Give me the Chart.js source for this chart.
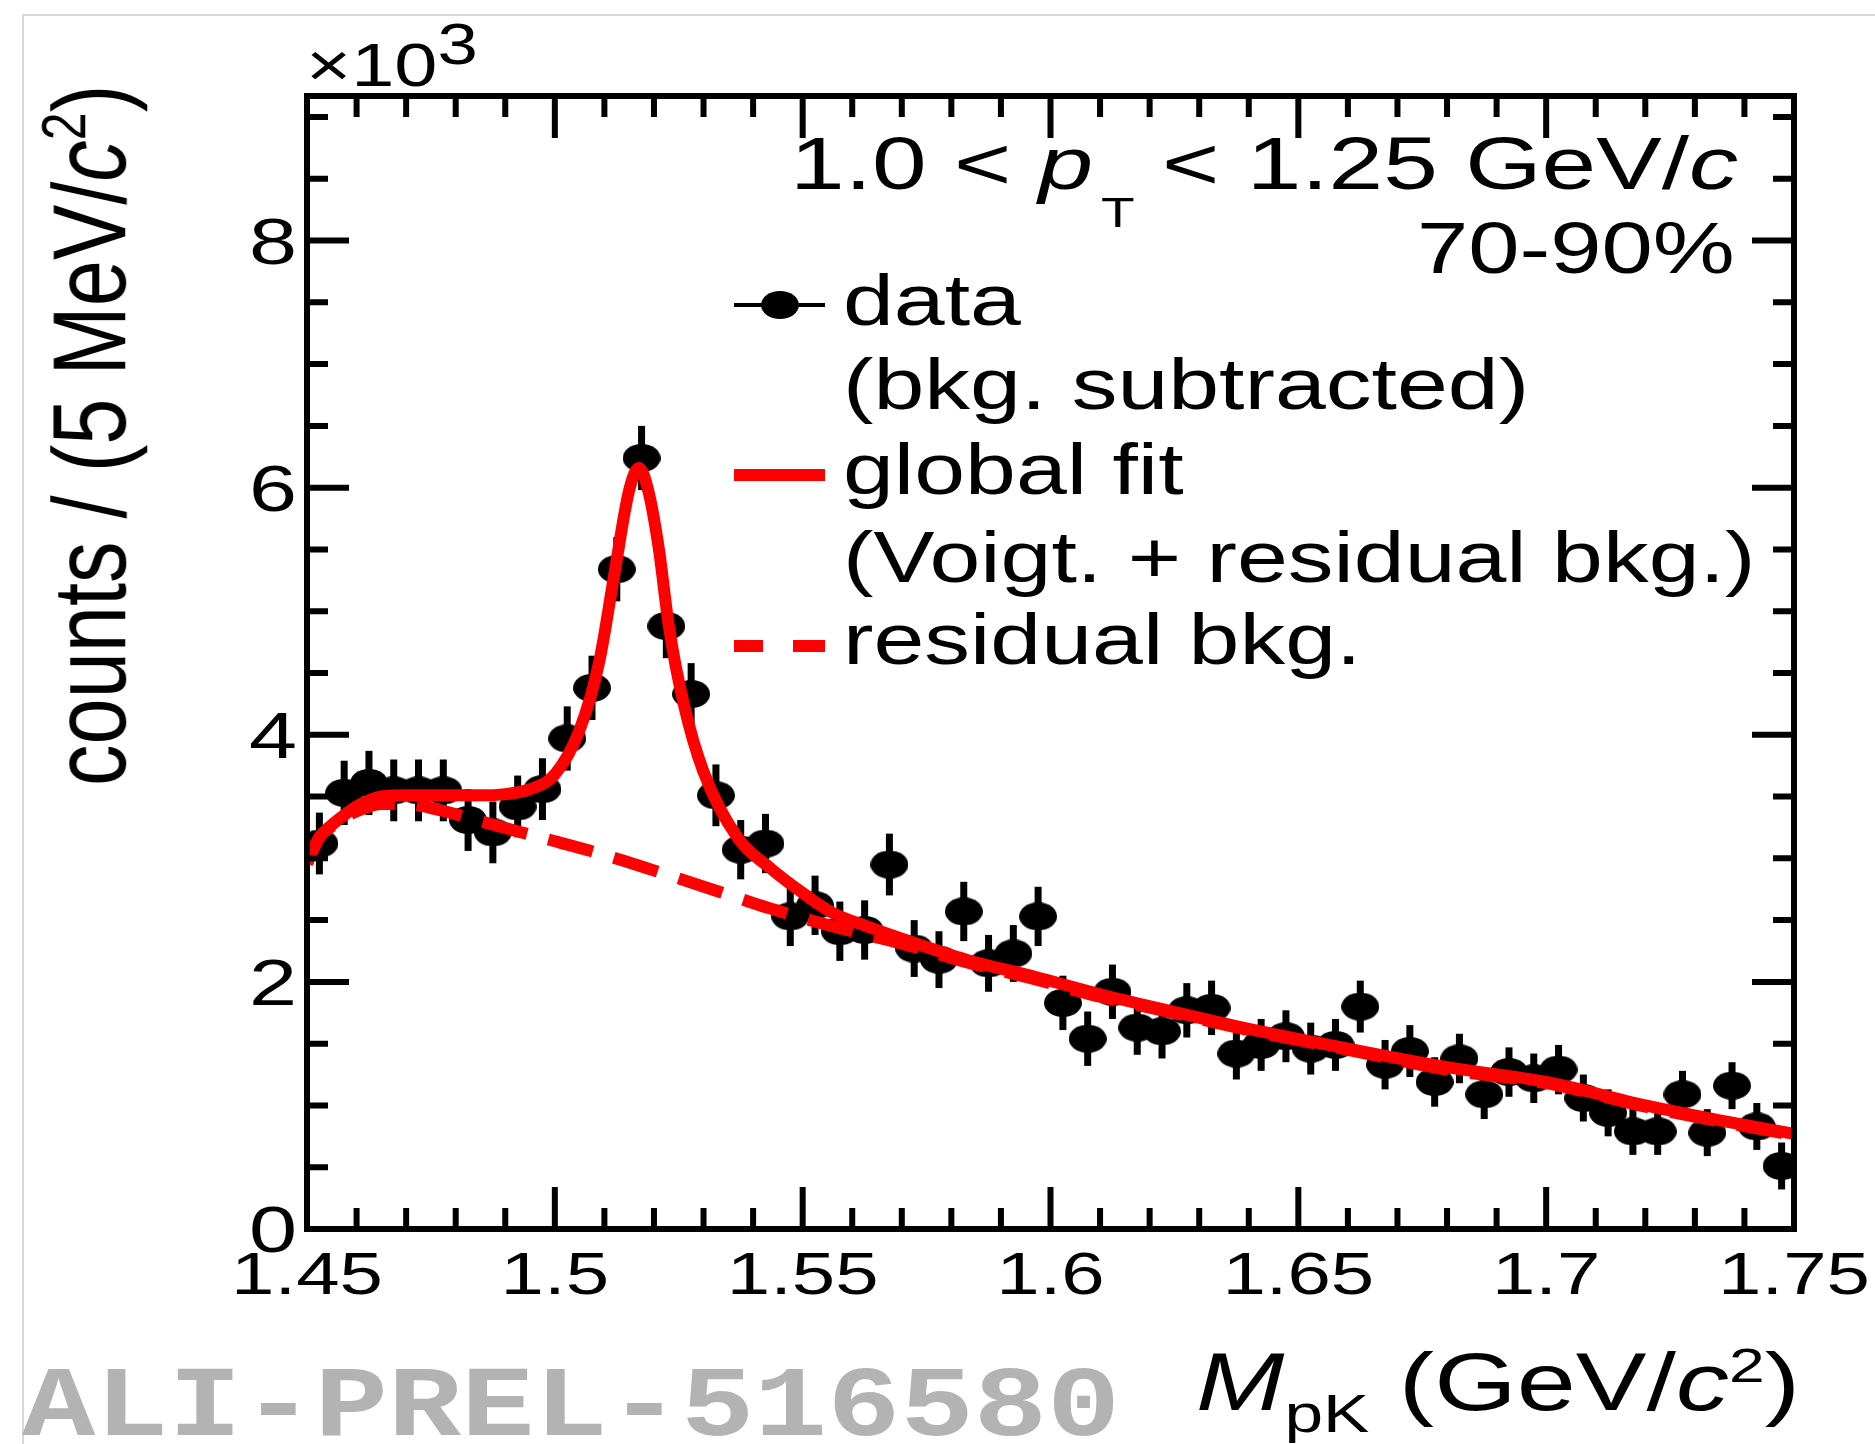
<!DOCTYPE html>
<html>
<head>
<meta charset="utf-8">
<title>Λ(1520) → pK invariant mass, 70-90%</title>
<script src="https://cdn.jsdelivr.net/npm/chart.js"></script>
<style>
  body { margin: 0; background: #fff; }
  #wrap { position: relative; width: 1875px; height: 1444px; overflow: hidden; }
  #border { position: absolute; left: 22px; top: 14px; width: 1900px; height: 1500px;
            border-left: 2px solid #d9d9d9; border-top: 2px solid #d9d9d9; }
  canvas { position: absolute; left: 0; top: 0; }
  .txt { position: absolute; white-space: nowrap; line-height: 1; color: #000;
         font-family: "Liberation Sans", Arial, sans-serif; transform-origin: 0 0; }
  .txt i { font-style: italic; }
  #watermark { font-family: "Liberation Mono", monospace; font-weight: bold; color: #b3b3b3; }
</style>
</head>
<body>
<div id="wrap">
  <div id="border"></div>
  <canvas id="massChart" width="1875" height="1444"></canvas>

  <div class="txt" id="multiplier">×10<span style="font-size:58px;vertical-align:22px">3</span></div>
  <div class="txt" id="ytitle">counts / (5 MeV/<i>c</i><span style="font-size:50px;vertical-align:32px">2</span>)</div>
  <div class="txt" id="xtitle"><i>M</i><span style="font-size:53px;vertical-align:-22px">pK</span> (GeV/<i>c</i><span style="font-size:49px;vertical-align:28px">2</span>)</div>
  <div class="txt" id="ptRange">1.0 &lt; <i>p</i><span style="font-size:42px;vertical-align:-38px;margin-left:6px">T</span> &lt; 1.25 GeV/<i>c</i></div>
  <div class="txt" id="centrality">70-90%</div>
  <div class="txt" id="leg1">data</div>
  <div class="txt" id="leg1b">(bkg. subtracted)</div>
  <div class="txt" id="leg2">global fit</div>
  <div class="txt" id="leg2b">(Voigt. + residual bkg.)</div>
  <div class="txt" id="leg3">residual bkg.</div>
  <div class="txt" id="watermark">ALI-PREL-516580</div>
</div>

<script>
// bin centres of the pK invariant mass histogram (GeV/c^2), 5 MeV bins
const massBins = [
  1.4525, 1.4575, 1.4625, 1.4675, 1.4725, 1.4775, 1.4825, 1.4875, 1.4925, 1.4975,
  1.5025, 1.5075, 1.5125, 1.5175, 1.5225, 1.5275, 1.5325, 1.5375, 1.5425, 1.5475,
  1.5525, 1.5575, 1.5625, 1.5675, 1.5725, 1.5775, 1.5825, 1.5875, 1.5925, 1.5975,
  1.6025, 1.6075, 1.6125, 1.6175, 1.6225, 1.6275, 1.6325, 1.6375, 1.6425, 1.6475,
  1.6525, 1.6575, 1.6625, 1.6675, 1.6725, 1.6775, 1.6825, 1.6875, 1.6925, 1.6975,
  1.7025, 1.7075, 1.7125, 1.7175, 1.7225, 1.7275, 1.7325, 1.7375, 1.7425, 1.7475
];
// background-subtracted counts, in units of 10^3
const counts = [
  3.12, 3.53, 3.61, 3.55, 3.55, 3.55, 3.31, 3.21, 3.42, 3.56,
  3.97, 4.38, 5.34, 6.24, 4.88, 4.33, 3.51, 3.07, 3.12, 2.53,
  2.62, 2.41, 2.42, 2.95, 2.27, 2.18, 2.57, 2.15, 2.23, 2.53,
  1.83, 1.54, 1.92, 1.63, 1.60, 1.77, 1.79, 1.42, 1.49, 1.56,
  1.46, 1.49, 1.80, 1.33, 1.44, 1.19, 1.38, 1.09, 1.27, 1.22,
  1.29, 1.06, 0.94, 0.79, 0.79, 1.09, 0.78, 1.16, 0.83, 0.51
];
const countErrors = [
  0.25, 0.26, 0.26, 0.25, 0.25, 0.25, 0.25, 0.25, 0.25, 0.25,
  0.26, 0.26, 0.26, 0.26, 0.26, 0.25, 0.25, 0.24, 0.24, 0.24,
  0.24, 0.24, 0.24, 0.25, 0.23, 0.23, 0.24, 0.23, 0.23, 0.24,
  0.22, 0.22, 0.22, 0.22, 0.22, 0.22, 0.22, 0.21, 0.21, 0.21,
  0.21, 0.21, 0.21, 0.20, 0.21, 0.20, 0.20, 0.20, 0.20, 0.20,
  0.20, 0.19, 0.19, 0.19, 0.19, 0.19, 0.19, 0.19, 0.19, 0.19
];

// global fit (Voigt. + residual bkg.)
const fitMass = [
  1.450, 1.4525, 1.455, 1.4575, 1.460, 1.4625, 1.465, 1.470, 1.475, 1.480,
  1.485, 1.490, 1.495, 1.500, 1.505, 1.509, 1.512, 1.515, 1.517, 1.519,
  1.521, 1.523, 1.526, 1.530, 1.537, 1.5435, 1.550, 1.556, 1.563, 1.570,
  1.583, 1.597, 1.610, 1.6236, 1.640, 1.660, 1.680, 1.700, 1.720, 1.735, 1.750
];
const fitCounts = [
  2.96, 3.17, 3.27, 3.35, 3.42, 3.47, 3.50, 3.51, 3.51, 3.51,
  3.51, 3.52, 3.56, 3.68, 4.04, 4.60, 5.30, 5.98, 6.16, 5.95,
  5.50, 4.88, 4.25, 3.70, 3.16, 2.92, 2.72, 2.56, 2.45, 2.35,
  2.18, 2.04, 1.90, 1.77, 1.62, 1.46, 1.31, 1.19, 1.00, 0.88, 0.77
];
// residual background component
const bkgMass = [
  1.450, 1.4525, 1.455, 1.4575, 1.460, 1.4625, 1.465, 1.470, 1.4768, 1.485,
  1.497, 1.509, 1.524, 1.5354, 1.543, 1.556, 1.570, 1.583, 1.597, 1.610,
  1.6236, 1.640, 1.660, 1.680, 1.700, 1.720, 1.735, 1.750
];
const bkgCounts = [
  2.96, 3.17, 3.26, 3.33, 3.38, 3.42, 3.44, 3.44, 3.39, 3.30,
  3.17, 3.04, 2.85, 2.70, 2.60, 2.45, 2.31, 2.16, 2.02, 1.88,
  1.76, 1.61, 1.45, 1.29, 1.18, 0.99, 0.87, 0.76
];

// axes
const xRange = [1.45, 1.75];
const yRange = [0, 9.17];
const xTickValues = [1.45, 1.5, 1.55, 1.6, 1.65, 1.7, 1.75];
const xTickLabels = ['1.45', '1.5', '1.55', '1.6', '1.65', '1.7', '1.75'];
const yTickValues = [0, 2, 4, 6, 8];
const yTickLabels = ['0', '2', '4', '6', '8'];

const RED = '#ff0000';

// filled ellipse used as the data marker (the figure is stretched sideways)
const marker = document.createElement('canvas');
marker.width = 38;
marker.height = 28;
const mctx = marker.getContext('2d');
mctx.fillStyle = '#000';
mctx.beginPath();
mctx.ellipse(19, 14, 19, 14, 0, 0, 2 * Math.PI);
mctx.fill();

// ROOT-like frame: error bars, inward ticks on four sides, tick labels, legend keys
const rootStyle = {
  id: 'rootStyle',
  beforeDatasetsDraw(chart) {
    const ctx = chart.ctx, xs = chart.scales.x, ys = chart.scales.y;
    ctx.save();
    ctx.strokeStyle = '#000';
    ctx.lineWidth = 7;
    massBins.forEach((m, i) => {
      const px = xs.getPixelForValue(m);
      ctx.beginPath();
      ctx.moveTo(px, ys.getPixelForValue(counts[i] - countErrors[i]));
      ctx.lineTo(px, ys.getPixelForValue(counts[i] + countErrors[i]));
      ctx.stroke();
    });
    ctx.restore();
  },
  afterDraw(chart) {
    const ctx = chart.ctx, a = chart.chartArea;
    const xs = chart.scales.x, ys = chart.scales.y;
    ctx.save();
    ctx.strokeStyle = '#000';
    ctx.fillStyle = '#000';
    ctx.lineWidth = 6;
    ctx.lineCap = 'butt';
    ctx.strokeRect(a.left, a.top, a.right - a.left, a.bottom - a.top);

    // x ticks every 0.01, major every 0.05
    for (let k = 0; k <= 30; k++) {
      const v = xRange[0] + k * 0.01;
      const px = xs.getPixelForValue(v);
      const len = k % 5 === 0 ? 42 : 21;
      ctx.beginPath();
      ctx.moveTo(px, a.bottom); ctx.lineTo(px, a.bottom - len);
      ctx.moveTo(px, a.top); ctx.lineTo(px, a.top + len);
      ctx.stroke();
    }
    // y ticks every 0.5, major every 2
    for (let k = 0; k * 0.5 <= yRange[1]; k++) {
      const py = ys.getPixelForValue(k * 0.5);
      const len = k % 4 === 0 ? 42 : 21;
      ctx.beginPath();
      ctx.moveTo(a.left, py); ctx.lineTo(a.left + len, py);
      ctx.moveTo(a.right, py); ctx.lineTo(a.right - len, py);
      ctx.stroke();
    }

    // tick labels
    ctx.textBaseline = 'alphabetic';
    ctx.font = '60px "Liberation Sans", Arial, sans-serif';
    ctx.textAlign = 'center';
    xTickValues.forEach((v, i) => {
      ctx.save();
      ctx.translate(xs.getPixelForValue(v), 1294);
      ctx.scale(1.3, 1);
      ctx.fillText(xTickLabels[i], 0, 0);
      ctx.restore();
    });
    ctx.font = '64px "Liberation Sans", Arial, sans-serif';
    ctx.textAlign = 'right';
    yTickValues.forEach((v, i) => {
      ctx.save();
      ctx.translate(297, ys.getPixelForValue(v) + 23);
      ctx.scale(1.35, 1);
      ctx.fillText(yTickLabels[i], 0, 0);
      ctx.restore();
    });

    // legend keys
    ctx.lineWidth = 4;
    ctx.beginPath(); ctx.moveTo(734, 305); ctx.lineTo(825, 305); ctx.stroke();
    ctx.drawImage(marker, 780 - 19, 305 - 14);
    ctx.strokeStyle = RED;
    ctx.lineWidth = 12;
    ctx.beginPath(); ctx.moveTo(734, 475); ctx.lineTo(825, 475); ctx.stroke();
    ctx.beginPath();
    ctx.moveTo(734, 646); ctx.lineTo(763, 646);
    ctx.moveTo(793, 646); ctx.lineTo(825, 646);
    ctx.stroke();
    ctx.restore();
  }
};

function points(xs, ys) {
  return xs.map((x, i) => ({ x: x, y: ys[i] }));
}

const chart = new Chart(document.getElementById('massChart').getContext('2d'), {
  type: 'scatter',
  data: {
    datasets: [{
      label: 'global fit',
      type: 'line',
      data: points(fitMass, fitCounts),
      borderColor: RED,
      borderWidth: 12,
      borderJoinStyle: 'round',
      pointRadius: 0,
      cubicInterpolationMode: 'monotone',
      fill: false,
      order: 1
    }, {
      label: 'residual bkg.',
      type: 'line',
      data: points(bkgMass, bkgCounts),
      borderColor: RED,
      borderWidth: 12,
      borderDash: [46, 22],
      pointRadius: 0,
      cubicInterpolationMode: 'monotone',
      fill: false,
      order: 2
    }, {
      label: 'data',
      data: points(massBins, counts),
      pointStyle: marker,
      pointRadius: 14,
      order: 3
    }]
  },
  options: {
    responsive: false,
    animation: false,
    devicePixelRatio: 1,
    layout: { padding: { left: 307, top: 96, right: 81, bottom: 215 } },
    plugins: { legend: { display: false }, tooltip: { enabled: false } },
    scales: {
      x: { type: 'linear', min: xRange[0], max: xRange[1], display: false },
      y: { type: 'linear', min: yRange[0], max: yRange[1], display: false }
    }
  },
  plugins: [rootStyle]
});

// put an html text block so that its baseline sits at (x, baseline)
function placeText(id, x, baseline, size, sx, align) {
  const el = document.getElementById(id);
  el.style.fontSize = size + 'px';
  const probe = document.createElement('span');
  probe.style.cssText = 'display:inline-block;width:0;height:0;vertical-align:baseline';
  el.appendChild(probe);
  const base = probe.offsetTop;
  const w = el.offsetWidth * sx;
  el.style.transform = 'scaleX(' + sx + ')';
  el.style.left = (align === 'right' ? x - w : x) + 'px';
  el.style.top = (baseline - base) + 'px';
}

placeText('multiplier', 306, 86, 62, 1.25);
placeText('xtitle', 1196, 1410, 81, 1.31);
placeText('ptRange', 1738, 189, 75, 1.31, 'right');
placeText('centrality', 1734, 273, 72, 1.28, 'right');
placeText('leg1', 843, 325, 72, 1.27);
placeText('leg1b', 843, 409, 72, 1.27);
placeText('leg2', 843, 494, 72, 1.27);
placeText('leg2b', 843, 582, 72, 1.27);
placeText('leg3', 843, 664, 72, 1.27);
placeText('watermark', 22, 1435, 100, 1.22);

// rotated y title, reading upwards, glyphs stretched sideways like the rest
(function () {
  const el = document.getElementById('ytitle');
  el.style.fontSize = '83px';
  const probe = document.createElement('span');
  probe.style.cssText = 'display:inline-block;width:0;height:0;vertical-align:baseline';
  el.appendChild(probe);
  const base = probe.offsetTop;
  el.style.transform = 'rotate(-90deg) scaleY(1.25)';
  el.style.left = (125 - 1.25 * base) + 'px';
  el.style.top = '786px';
})();
</script>
</body>
</html>
